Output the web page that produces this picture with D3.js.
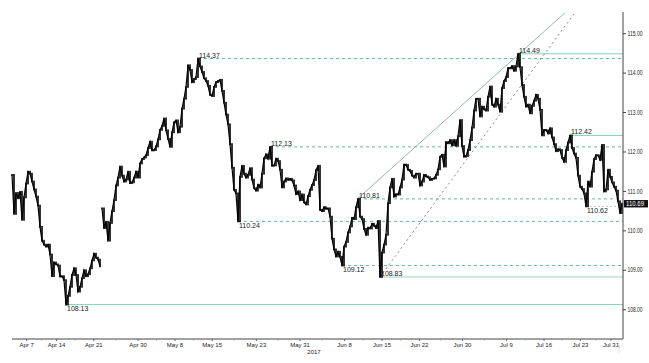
<!DOCTYPE html>
<html><head><meta charset="utf-8">
<script src="https://cdn.jsdelivr.net/npm/d3@7"></script>
<style>
html,body{margin:0;padding:0;background:#fff;}
svg{display:block;font-family:"Liberation Sans",Arial,sans-serif;}
</style></head>
<body>
<svg id="chart" width="649" height="363"></svg>
<script>
// USD/JPY closes, evenly spaced in time (Apr 5 – Aug 2, 2017)
const closes = [
111.42,110.43,110.96,110.83,110.99,110.28,110.85,111.20,111.50,111.45,
111.25,111.05,110.87,110.64,110.10,109.75,109.65,109.60,109.65,109.40,
108.85,109.20,109.15,109.12,108.84,108.85,108.75,108.13,108.35,108.58,
108.88,109.05,108.88,108.46,108.58,108.80,109.00,108.85,108.90,109.05,
109.25,109.42,109.32,109.27,109.10,110.57,110.07,110.23,109.75,110.20,
110.50,110.78,111.15,111.35,111.63,111.40,111.25,111.30,111.50,111.21,
111.23,111.35,111.50,111.35,111.71,111.82,111.86,111.92,112.10,112.26,
112.04,112.05,112.14,112.32,112.56,112.66,112.85,112.55,112.33,112.13,
112.50,112.75,112.80,112.50,112.64,113.10,113.35,113.65,114.20,114.08,
113.77,113.85,113.90,114.37,114.17,114.03,113.87,113.80,113.68,113.45,
113.42,113.65,113.77,113.80,113.83,113.55,113.25,112.95,112.70,112.20,
111.60,111.04,110.95,110.24,111.37,111.65,111.45,111.35,111.42,111.59,
111.30,111.08,111.02,111.17,111.10,111.45,111.84,111.94,111.83,112.13,
111.65,111.66,111.83,111.77,111.55,111.10,111.25,111.33,111.29,111.32,
111.28,111.15,110.93,111.00,110.78,110.92,110.72,110.67,110.88,111.04,
111.16,111.29,111.54,111.65,110.53,110.50,110.60,110.56,110.57,110.36,
109.80,109.53,109.35,109.47,109.34,109.12,109.60,109.72,109.96,110.11,
110.33,110.30,110.60,110.81,110.36,110.30,110.05,109.90,110.08,110.06,
110.18,110.13,110.07,110.25,108.83,109.45,109.65,109.90,110.70,111.10,
111.32,110.87,110.93,110.92,111.10,111.30,111.68,111.67,111.55,111.52,
111.40,111.35,111.45,111.45,111.15,111.25,111.42,111.38,111.36,111.29,
111.32,111.33,111.42,111.56,111.88,111.93,111.63,112.25,112.22,112.30,
112.17,112.30,112.16,112.40,112.81,112.15,111.88,111.90,112.05,112.30,
112.62,113.05,113.35,113.35,112.90,113.15,113.08,113.05,113.40,113.66,
113.20,113.15,113.35,113.20,113.02,113.62,113.80,113.90,114.13,114.12,
114.18,114.06,114.17,114.49,114.15,113.70,113.40,113.15,113.20,112.98,
113.17,113.30,113.45,113.35,113.07,112.42,112.56,112.55,112.47,112.60,
112.37,112.20,112.02,112.07,112.05,111.85,111.75,112.05,112.24,112.42,
112.10,111.96,111.85,111.40,111.12,111.06,110.95,110.62,111.25,111.12,
111.50,111.82,111.92,111.91,111.80,112.18,111.00,111.05,111.55,111.37,
111.23,111.12,111.02,110.75,110.45,110.69
];
const weekendGaps = [45];          // index where a weekend gap opens (no link to previous bar)
const lastPrice = 110.69;

const xTickLabels = ["Apr 7","Apr 14","Apr 21","Apr 30","May 8","May 15","May 23","May 31",
                     "Jun 8","Jun 15","Jun 22","Jun 30","Jul 9","Jul 16","Jul 23","Jul 31"];
const xTickIndex  = [7.3,22.3,40.9,63,81.5,100.1,122.2,144,166.3,185,203.7,225.2,247.2,266,284.2,299.5];
const yearLabel = "2017";
const yTicks = [108,109,110,111,112,113,114,115];

// marked levels: value and bar index where the level starts
const levelValues = [114.37,112.13,110.81,110.24,109.12,108.83,108.13,114.49,112.42,110.62];
const levelIndex  = [93,129,173,113,165,184,27,253,279,287];
const levelKind   = ["dash","dash","dash","dash","dash","pale","solid","solid","solid","faint"];
const labelBelow  = [false,false,false,true,true,false,true,false,false,true];

// trend lines: [index, value] anchor pairs
const trendSolid  = [[172.7,110.81],[276.5,115.53]];
const trendDotted = [[184,108.83],[281,115.50]];

const svg = d3.select("#chart");
const x = d3.scaleLinear().domain([0, closes.length-1]).range([12, 622]);
const y = d3.scaleLinear().domain([108, 115]).range([309.7, 33.7]);
const plotTop = 12, plotBottom = 339, axisX = 623;

const teal = "#5fbf9d";
const fmt = d3.format(".2f");

svg.append("defs").append("clipPath").attr("id","clip")
  .append("rect").attr("x",0).attr("y",plotTop).attr("width",axisX).attr("height",plotBottom-plotTop);

const g = svg.append("g").attr("clip-path","url(#clip)");

// level lines
levelValues.forEach((v,k)=>{
  const kind = levelKind[k];
  const x0 = x(levelIndex[k]);
  const line = g.append("line").attr("x1",x0).attr("x2",axisX).attr("y1",y(v)).attr("y2",y(v));
  if(kind==="dash") line.attr("stroke",teal).attr("stroke-width",1).attr("stroke-dasharray","3,3");
  else if(kind==="solid") line.attr("stroke","#7dd3b6").attr("stroke-width",1);
  else if(kind==="pale") line.attr("stroke","#cfe9df").attr("stroke-width",2.2);
  else line.attr("stroke","#c8c8c8").attr("stroke-width",1).attr("stroke-dasharray","2,2");
});

// trend lines
g.append("line")
  .attr("x1",x(trendSolid[0][0])).attr("y1",y(trendSolid[0][1]))
  .attr("x2",x(trendSolid[1][0])).attr("y2",y(trendSolid[1][1]))
  .attr("stroke","#93b9aa").attr("stroke-width",1);
g.append("line")
  .attr("x1",x(trendDotted[0][0])).attr("y1",y(trendDotted[0][1]))
  .attr("x2",x(trendDotted[1][0])).attr("y2",y(trendDotted[1][1]))
  .attr("stroke","#8a8a8a").attr("stroke-width",1).attr("stroke-dasharray","2,3");

// price bars (open = previous close)
const bars = closes.map((c,i)=>{
  const o = (i===0 || weekendGaps.includes(i)) ? c : closes[i-1];
  return {i,o,c};
});
g.selectAll("rect.bar").data(bars).enter().append("rect")
  .attr("class","bar")
  .attr("x",d=>x(d.i)-0.8)
  .attr("width",1.6)
  .attr("y",d=>Math.min(y(d.o),y(d.c))-0.9)
  .attr("height",d=>Math.abs(y(d.o)-y(d.c))+1.8)
  .attr("fill","#000");
const cuts = [0, ...weekendGaps, closes.length];
for(let s=0;s<cuts.length-1;s++){
  const seg = closes.slice(cuts[s], cuts[s+1]);
  g.append("path").datum(seg)
   .attr("d", d3.line().x((d,i)=>x(i+cuts[s])).y(d=>y(d)))
   .attr("fill","none").attr("stroke","#000").attr("stroke-width",1.2).attr("stroke-linejoin","miter");
}

// level labels
levelValues.forEach((v,k)=>{
  svg.append("text")
    .attr("x", x(levelIndex[k])+1)
    .attr("y", labelBelow[k] ? y(v)+6.8 : y(v)-1)
    .attr("font-size",7).attr("fill","#1a1a1a")
    .text(fmt(v));
});

// right axis
svg.append("line").attr("x1",axisX).attr("x2",axisX).attr("y1",plotTop).attr("y2",plotBottom)
  .attr("stroke","#444").attr("stroke-width",1);
yTicks.forEach(t=>{
  svg.append("line").attr("x1",axisX).attr("x2",axisX+3).attr("y1",y(t)).attr("y2",y(t))
    .attr("stroke","#444");
  svg.append("text").attr("x",axisX+4.5).attr("y",y(t)+2.2)
    .attr("font-size",6.3).attr("fill","#222")
    .attr("textLength",15).attr("lengthAdjust","spacingAndGlyphs")
    .text(fmt(t));
});
// last price tag
svg.append("rect").attr("x",axisX+1).attr("y",y(lastPrice)-3.6).attr("width",24).attr("height",7.4)
  .attr("fill","#111");
svg.append("text").attr("x",axisX+3).attr("y",y(lastPrice)+2.3)
  .attr("font-size",6.3).attr("fill","#fff")
  .attr("textLength",18).attr("lengthAdjust","spacingAndGlyphs")
  .text(fmt(lastPrice));

// bottom axis
svg.append("line").attr("x1",12).attr("x2",axisX).attr("y1",plotBottom).attr("y2",plotBottom)
  .attr("stroke","#444");
xTickIndex.forEach((t,k)=>{
  svg.append("line").attr("x1",x(t)).attr("x2",x(t)).attr("y1",plotBottom).attr("y2",plotBottom+2)
    .attr("stroke","#666");
  if(k<xTickIndex.length-1){
    const m = (t+xTickIndex[k+1])/2;
    svg.append("line").attr("x1",x(m)).attr("x2",x(m)).attr("y1",plotBottom).attr("y2",plotBottom+1.5)
      .attr("stroke","#999");
  }
  svg.append("text").attr("x",x(t)).attr("y",plotBottom+7.5)
    .attr("text-anchor","middle").attr("font-size",6).attr("fill","#222")
    .text(xTickLabels[k]);
});
svg.append("text").attr("x",314).attr("y",353.5).attr("text-anchor","middle")
  .attr("font-size",6).attr("fill","#222").text(yearLabel);
svg.append("line").attr("x1",619).attr("x2",619).attr("y1",343).attr("y2",353)
  .attr("stroke","#ddd");
</script>
</body></html>
